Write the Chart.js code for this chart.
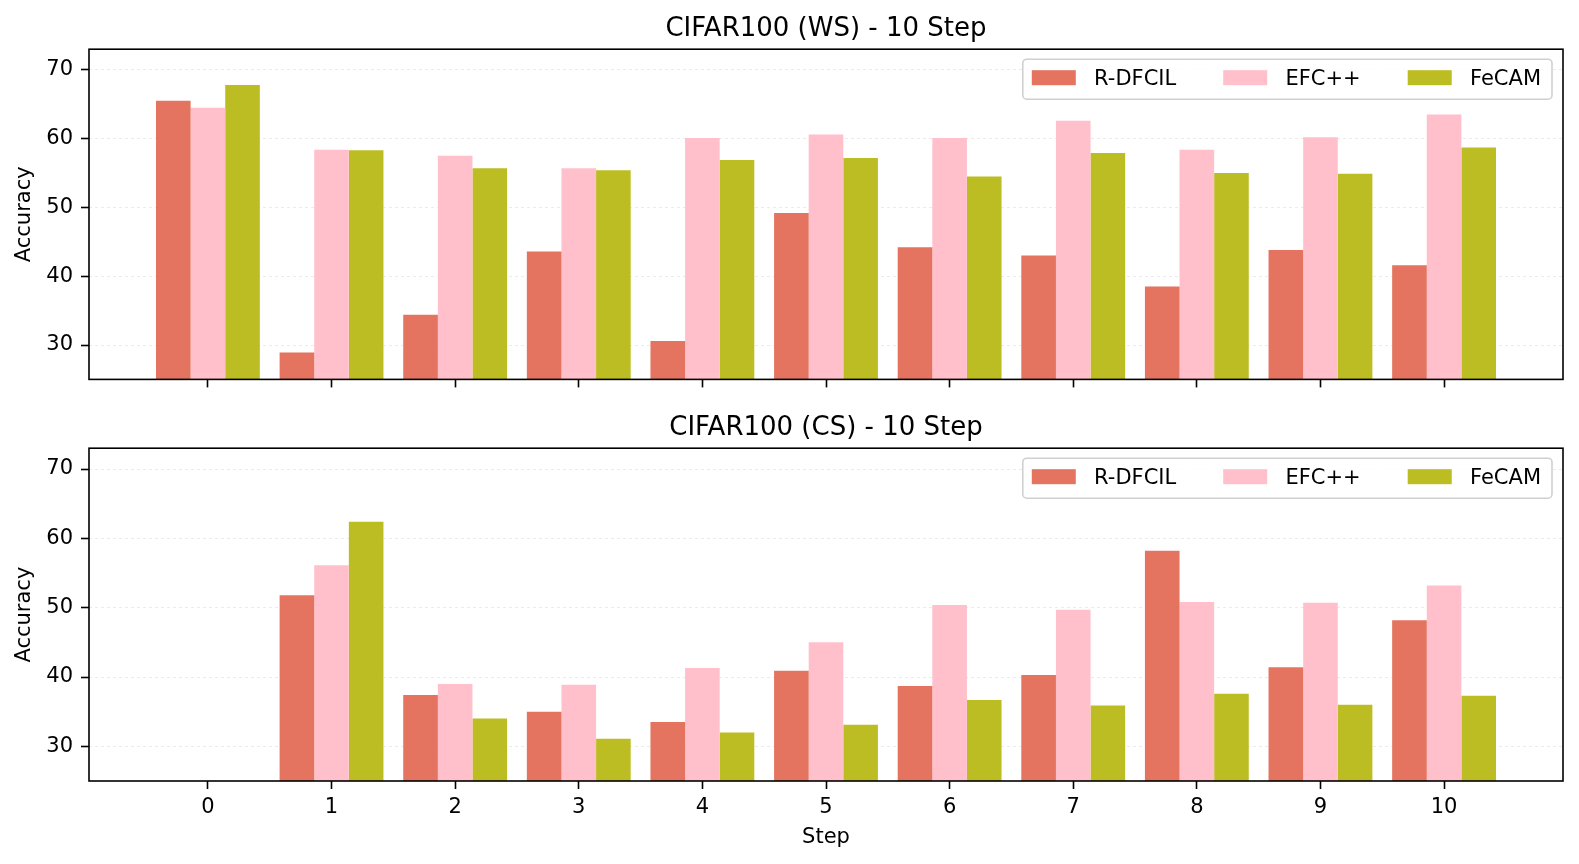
<!DOCTYPE html>
<html>
<head>
<meta charset="utf-8">
<script src="https://cdn.jsdelivr.net/npm/chart.js@4.4.1/dist/chart.umd.min.js"></script>
<style>
    body { margin: 0; background: #fff; }
    #wsChart { position: absolute; left: 0; top: 0; }
    #csChart { position: absolute; left: 0; top: 399px; }
</style>
</head>
<body>
<canvas id="wsChart" width="1579" height="400"></canvas>
<canvas id="csChart" width="1579" height="465"></canvas>
<script>
    // Datos
    const steps = [0, 1, 2, 3, 4, 5, 6, 7, 8, 9, 10];
    const yTicks = [30, 40, 50, 60, 70];
    const seriesNames = ['R-DFCIL', 'EFC++', 'FeCAM'];
    const seriesColors = ['#E4735F', '#FFC0CB', '#BCBD22'];

    // CIFAR100 (WS)
    const wsRdfcil = [65.5, 28.9, 34.4, 43.6, 30.6, 49.2, 44.2, 43.0, 38.5, 43.8, 41.6];
    const wsEfc = [64.5, 58.4, 57.5, 55.7, 60.1, 60.6, 60.1, 62.6, 58.4, 60.2, 63.5];
    const wsFecam = [67.8, 58.3, 55.7, 55.4, 56.9, 57.2, 54.5, 57.9, 55.0, 54.9, 58.7];

    // CIFAR100 (CS)
    const csRdfcil = [null, 51.8, 37.4, 35.0, 33.5, 40.9, 38.7, 40.3, 58.2, 41.4, 48.2];
    const csEfc = [null, 56.1, 39.0, 38.9, 41.3, 45.0, 50.4, 49.7, 50.8, 50.7, 53.2];
    const csFecam = [null, 62.4, 34.0, 31.1, 32.0, 33.1, 36.7, 35.9, 37.6, 36.0, 37.3];

    const FONT = 'DejaVu Sans';
    Chart.defaults.font.family = FONT;
    Chart.defaults.font.size = 21;
    Chart.defaults.color = '#000';

    // Marco negro alrededor del área del gráfico
    const framePlugin = {
        id: 'frame',
        afterDatasetsDraw(chart) {
            const { ctx, chartArea: a } = chart;
            ctx.save();
            ctx.strokeStyle = '#000';
            ctx.lineWidth = 1.6;
            ctx.strokeRect(a.left, a.top, a.right - a.left, a.bottom - a.top);
            ctx.restore();
        }
    };

    // Leyenda dentro del área, arriba a la derecha
    const insideLegend = {
        id: 'insideLegend',
        afterDraw(chart) {
            const { ctx, chartArea: a } = chart;
            const sets = chart.data.datasets;
            const sw = 44, sh = 15, gap = 18.3, colGap = 47, padL = 9, padR = 11, h = 40;
            ctx.save();
            ctx.font = '21px "' + FONT + '"';
            const widths = sets.map(d => ctx.measureText(d.label).width);
            let w = padL + padR + (sets.length - 1) * colGap;
            widths.forEach(tw => { w += sw + gap + tw; });
            const x0 = a.right - 11 - w;
            const y0 = a.top + 10;

            ctx.beginPath();
            ctx.roundRect(x0, y0, w, h, 4);
            ctx.fillStyle = 'rgba(255,255,255,0.85)';
            ctx.fill();
            ctx.strokeStyle = '#d0d0d0';
            ctx.lineWidth = 1.6;
            ctx.stroke();

            let x = x0 + padL;
            ctx.textBaseline = 'middle';
            ctx.textAlign = 'left';
            sets.forEach((d, i) => {
                ctx.fillStyle = d.backgroundColor;
                ctx.fillRect(x, y0 + 11, sw, sh);
                ctx.fillStyle = '#000';
                ctx.fillText(d.label, x + sw + gap, y0 + 20);
                x += sw + gap + widths[i] + colGap;
            });
            ctx.restore();
        }
    };

    function makeChart(canvasId, titleText, values, showXLabels) {
        const ctx = document.getElementById(canvasId).getContext('2d');
        return new Chart(ctx, {
            type: 'bar',
            data: {
                datasets: values.map((vals, i) => ({
                    label: seriesNames[i],
                    data: steps.map((s, j) => ({ x: s, y: vals[j] })),
                    backgroundColor: seriesColors[i],
                    borderWidth: 0,
                    categoryPercentage: 0.84,
                    barPercentage: 1.0
                }))
            },
            options: {
                responsive: false,
                animation: false,
                devicePixelRatio: 1,
                layout: { padding: { left: 0, right: 16, top: 0, bottom: 0 } },
                plugins: {
                    legend: { display: false },
                    tooltip: { enabled: false },
                    title: {
                        display: true,
                        fullSize: false,
                        text: titleText,
                        color: '#000',
                        font: { size: 26, weight: 'normal' },
                        padding: { top: 14, bottom: 4 }
                    }
                },
                scales: {
                    x: {
                        type: 'linear',
                        min: -0.962,
                        max: 10.962,
                        offset: false,
                        afterBuildTicks: s => { s.ticks = steps.map(v => ({ value: v })); },
                        afterFit: s => { s.height = showXLabels ? 83 : 19; },
                        ticks: { display: showXLabels, padding: 6, autoSkip: false, maxRotation: 0 },
                        grid: {
                            offset: false,
                            drawOnChartArea: false,
                            drawTicks: true,
                            tickLength: 8,
                            tickColor: '#000',
                            tickWidth: 1.6
                        },
                        border: { display: false },
                        title: {
                            display: showXLabels,
                            text: 'Step',
                            padding: { top: 0, bottom: 13.5 }
                        }
                    },
                    y: {
                        type: 'linear',
                        min: 25,
                        max: 73,
                        afterBuildTicks: s => { s.ticks = yTicks.map(v => ({ value: v })); },
                        afterFit: s => { s.width = 89; },
                        ticks: { padding: 8 },
                        grid: {
                            color: 'rgba(0,0,0,0.08)',
                            lineWidth: 1,
                            tickLength: 8,
                            tickColor: '#000',
                            tickWidth: 1.6,
                            tickBorderDash: []
                        },
                        border: { display: false, dash: [3, 3] },
                        title: {
                            display: true,
                            text: 'Accuracy',
                            padding: { top: 12, bottom: 0 }
                        }
                    }
                }
            },
            plugins: [framePlugin, insideLegend]
        });
    }

    makeChart('wsChart', 'CIFAR100 (WS) - 10 Step', [wsRdfcil, wsEfc, wsFecam], false);
    makeChart('csChart', 'CIFAR100 (CS) - 10 Step', [csRdfcil, csEfc, csFecam], true);
</script>
</body>
</html>
